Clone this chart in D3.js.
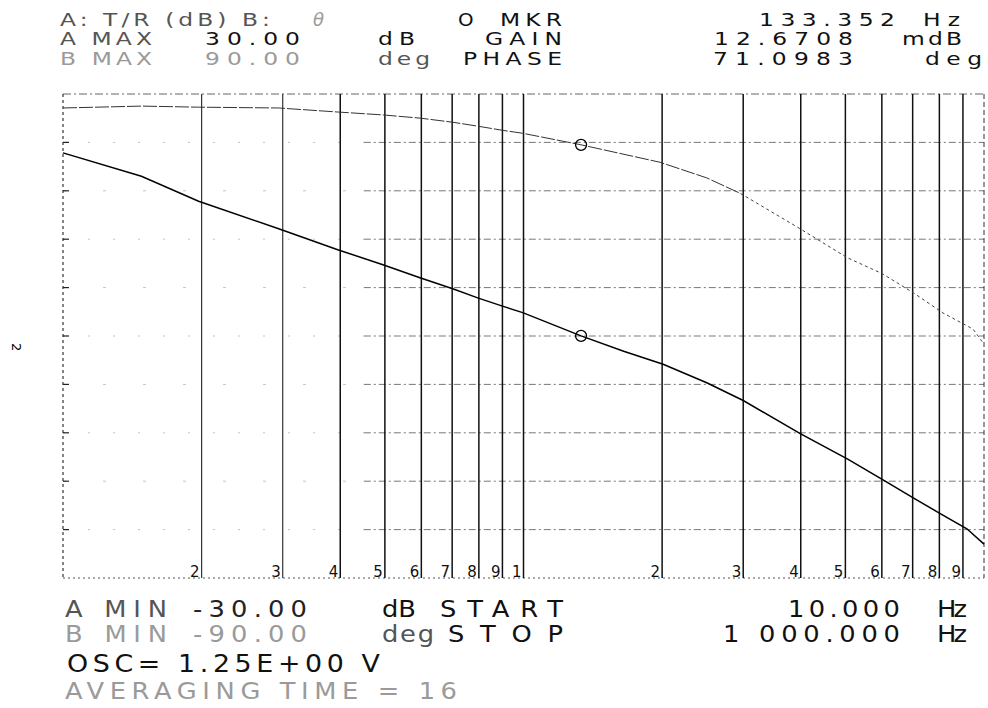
<!DOCTYPE html>
<html>
<head>
<meta charset="utf-8">
<script src="https://cdn.jsdelivr.net/npm/d3@7"></script>
<style>
  html, body { margin: 0; padding: 0; background: #fff; }
  svg { display: block; }
  text { font-family: "DejaVu Sans", sans-serif; }
</style>
</head>
<body>
<div id="chart"></div>
<script>
// Bode plot (gain + phase) from an analyzer plotter printout.

// gain trace A (Hz, dB)
const gainFreq = [10, 14.8, 19.7, 29.4, 39.5, 49.7, 59.8, 70.2, 79.8, 90, 99.6, 133.352, 165, 201, 250, 300, 399, 507, 610, 708, 814, 918, 1000];
const gainDb   = [22.7, 19.8, 16.7, 13.3, 10.7, 8.8, 7.2, 5.85, 4.7, 3.7, 2.9, 0.0127, -1.9, -3.5, -5.8, -8.0, -12.1, -15.3, -18.0, -20.2, -22.2, -23.9, -25.8];

// phase trace B (Hz, deg)
const phaseFreq = [10, 14.8, 19.7, 29.4, 39.5, 49.7, 59.8, 70.2, 79.8, 90, 99.6, 133.352, 198, 250, 296, 395, 505, 601, 702, 814, 946, 1000];
const phaseDeg  = [84.8, 85.5, 85.1, 84.8, 83.3, 82.2, 81.0, 79.5, 78.0, 76.5, 75.4, 71.1, 64.6, 58.8, 53.0, 40.3, 29.1, 23.2, 16.1, 8.6, 2.6, -3.0];

// marker
const markerFreq = 133.352;
const markerGain = 0.0126708;
const markerPhase = 71.0983;

// axes ranges (A MIN/MAX, B MIN/MAX, START/STOP)
const gainRange = [-30, 30];
const phaseRange = [-90, 90];
const freqRange = [10, 1000];
const gridDivs = 10;
const minorDigits = [2, 3, 4, 5, 6, 7, 8, 9];
const faintGridUpTo = 45; // scan lost most of the dashed grid left of ~45 Hz

const W = 988, H = 708;
const plotL = 63, plotR = 984, plotT = 94, plotB = 578;

const svg = d3.select('#chart').append('svg')
  .attr('width', W).attr('height', H)
  .attr('viewBox', `0 0 ${W} ${H}`);

const x = d3.scaleLog().domain(freqRange).range([plotL, plotR]);
const yA = d3.scaleLinear().domain(gainRange).range([plotB, plotT]);
const yB = d3.scaleLinear().domain(phaseRange).range([plotB, plotT]);

// ---- grid ----
const grid = svg.append('g');
const hTicks = d3.range(1, gridDivs).map((i) => gainRange[0] + i * (gainRange[1] - gainRange[0]) / gridDivs);

grid.selectAll('line.h').data(hTicks).join('line')
  .attr('x1', x(faintGridUpTo)).attr('x2', plotR)
  .attr('y1', (d) => yA(d)).attr('y2', (d) => yA(d))
  .attr('stroke', '#555').attr('stroke-width', 0.8)
  .attr('stroke-dasharray', '7,3,2,3');
grid.selectAll('line.hf').data(hTicks).join('line')
  .attr('x1', plotL).attr('x2', x(faintGridUpTo))
  .attr('y1', (d) => yA(d)).attr('y2', (d) => yA(d))
  .attr('stroke', '#aaa').attr('stroke-width', 0.7)
  .attr('stroke-dasharray', (d, i) => i % 2 ? '3,37' : '2,23');

// small ticks on the left edge
grid.selectAll('line.lt').data(hTicks).join('line')
  .attr('x1', plotL).attr('x2', plotL + 6)
  .attr('y1', (d) => yA(d)).attr('y2', (d) => yA(d))
  .attr('stroke', '#222').attr('stroke-width', 1.2);

// top + bottom borders
grid.append('line').attr('x1', plotL).attr('x2', plotR).attr('y1', plotT).attr('y2', plotT)
  .attr('stroke', '#555').attr('stroke-width', 0.9).attr('stroke-dasharray', '8,3,2,3');
grid.append('line').attr('x1', plotL).attr('x2', plotR).attr('y1', plotB).attr('y2', plotB)
  .attr('stroke', '#444').attr('stroke-width', 0.9).attr('stroke-dasharray', '2,3');

// left + right borders
grid.append('line').attr('x1', plotL).attr('x2', plotL).attr('y1', plotT).attr('y2', plotB)
  .attr('stroke', '#222').attr('stroke-width', 1.1).attr('stroke-dasharray', '3,3');
grid.append('line').attr('x1', plotR).attr('x2', plotR).attr('y1', plotT).attr('y2', plotB)
  .attr('stroke', '#333').attr('stroke-width', 1).attr('stroke-dasharray', '5,3');

// decade lines 2..9 and the 100 Hz line
const vLines = [];
[10, 100].forEach((dec) => minorDigits.forEach((m) => vLines.push({ f: dec * m, label: String(m) })));
vLines.push({ f: 100, label: '1' });

grid.selectAll('line.v').data(vLines).join('line')
  .attr('x1', (d) => x(d.f)).attr('x2', (d) => x(d.f))
  .attr('y1', plotT).attr('y2', plotB)
  .attr('stroke', (d) => d.f < 40 ? '#333' : '#111')
  .attr('stroke-width', (d) => d.f < 40 ? 1.2 : 1.5);

grid.selectAll('text.v').data(vLines).join('text')
  .attr('x', (d) => x(d.f) - 2).attr('y', plotB - 1)
  .attr('text-anchor', 'end')
  .attr('font-size', 15).attr('fill', '#111')
  .text((d) => d.label);

// ---- traces ----
const gainPts = gainFreq.map((f, i) => [f, gainDb[i]]);
const phasePts = phaseFreq.map((f, i) => [f, phaseDeg[i]]);

const lineA = d3.line().x((d) => x(d[0])).y((d) => yA(d[1]));
const lineB = d3.line().x((d) => x(d[0])).y((d) => yB(d[1]));

// phase: thin trace, breaking up into dots at high frequency
svg.append('path').datum(phasePts.filter((d) => d[0] <= 296))
  .attr('d', lineB).attr('fill', 'none')
  .attr('stroke', '#333').attr('stroke-width', 1)
  .attr('stroke-dasharray', '14,2');
svg.append('path').datum(phasePts.filter((d) => d[0] >= 296))
  .attr('d', lineB).attr('fill', 'none')
  .attr('stroke', '#444').attr('stroke-width', 1)
  .attr('stroke-dasharray', '3,3');

svg.append('path').datum(gainPts)
  .attr('d', lineA).attr('fill', 'none')
  .attr('stroke', '#000').attr('stroke-width', 1.5);

// marker circles
svg.append('circle').attr('cx', x(markerFreq)).attr('cy', yA(markerGain)).attr('r', 5.5)
  .attr('fill', 'none').attr('stroke', '#000').attr('stroke-width', 1.3);
svg.append('circle').attr('cx', x(markerFreq)).attr('cy', yB(markerPhase)).attr('r', 5.5)
  .attr('fill', 'none').attr('stroke', '#000').attr('stroke-width', 1.3);

// ---- annotation text ----
// plotter glyphs are wider than DejaVu's, so stretch each run horizontally by sx
function txt(xp, yp, s, size, len, fill, sx, italic) {
  sx = sx || 1;
  const t = svg.append('text')
    .attr('transform', `translate(${xp},${yp}) scale(${sx},1)`)
    .attr('font-size', size)
    .attr('fill', fill || '#111')
    .text(s);
  if (len) t.attr('textLength', len / sx).attr('lengthAdjust', 'spacing');
  if (italic) t.attr('font-style', 'italic');
  return t;
}

const faint = '#9a9a9a';
const mid = '#555';
const hs = 18, hx = 1.3;   // header
const fs = 23, fx = 1.12;  // footer

// header
txt(60, 26, 'A: T/R (dB) B:', hs, 210, mid, hx);
txt(313, 26, 'θ', hs, null, faint, 1, true);
txt(458, 26, 'O', hs, null, '#111', 1.1);
txt(500, 26, 'MKR', hs, 62, '#111', hx);
txt(759, 26, '133.352', hs, 136, '#111', hx);
txt(923, 26, 'Hz', hs, 37, '#111', hx);

txt(60, 45, 'A MAX', hs, 92, mid, hx);
txt(205, 45, '30.00', hs, 95, '#111', hx);
txt(378, 45, 'dB', hs, 37, '#111', hx);
txt(485, 45, 'GAIN', hs, 77, '#111', hx);
txt(714, 45, '12.6708', hs, 139, '#111', hx);
txt(902, 45, 'mdB', hs, 60, '#111', hx);

txt(60, 65, 'B MAX', hs, 92, faint, hx);
txt(205, 65, '90.00', hs, 95, faint, hx);
txt(378, 65, 'deg', hs, 52, mid, hx);
txt(463, 65, 'PHASE', hs, 99, '#111', hx);
txt(713, 65, '71.0983', hs, 140, '#111', hx);
txt(925, 65, 'deg', hs, 57, '#111', hx);

// footer
txt(65, 617, 'A MIN', fs, 102, mid, fx);
txt(193, 617, '-30.00', fs, 114, '#222', fx);
txt(382, 617, 'dB', fs, 34, '#111', fx);
txt(440, 617, 'START', fs, 123, '#111', fx);
txt(788, 617, '10.000', fs, 112, '#111', fx);
txt(937, 617, 'Hz', fs, 30, '#111', fx);

txt(65, 642, 'B MIN', fs, 102, faint, fx);
txt(193, 642, '-90.00', fs, 114, faint, fx);
txt(382, 642, 'deg', fs, 52, mid, fx);
txt(448, 642, 'STOP', fs, 115, '#111', fx);
txt(723, 642, '1 000.000', fs, 177, '#111', fx);
txt(937, 642, 'Hz', fs, 30, '#111', fx);

txt(67, 672, 'OSC= 1.25E+00 V', fs + 1, 313, '#111', fx);
txt(65, 699, 'AVERAGING TIME = 16', fs, 392, faint, fx);

// stray page mark on the left margin
svg.append('text')
  .attr('transform', 'translate(12,343) rotate(90)')
  .attr('font-size', 13).attr('fill', '#000')
  .text('2');
</script>
</body>
</html>
